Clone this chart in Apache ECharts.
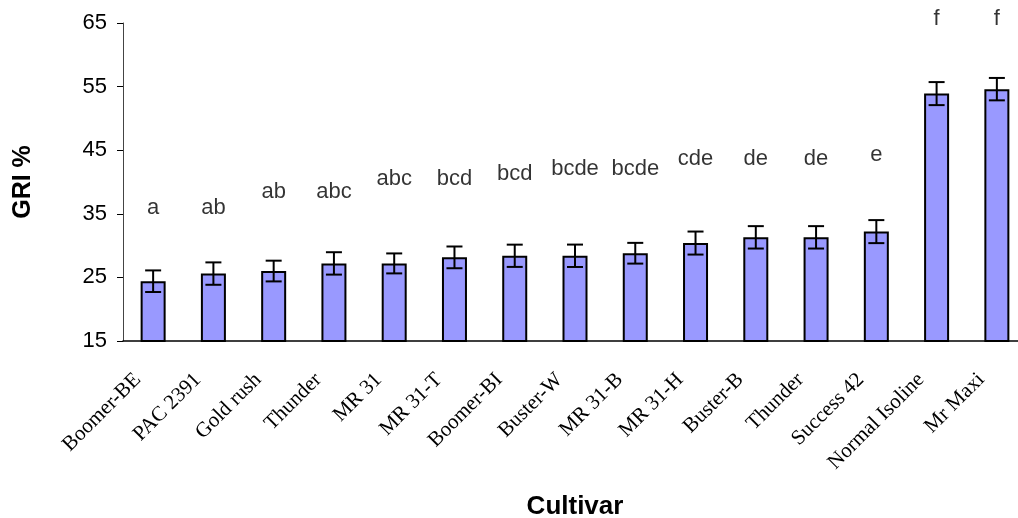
<!DOCTYPE html>
<html>
<head>
<meta charset="utf-8">
<script src="https://cdn.jsdelivr.net/npm/echarts@6/dist/echarts.min.js"></script>
<style>
html,body{margin:0;padding:0;background:#fff;}
#chart{width:1018px;height:518px;}
</style>
</head>
<body>
<div id="chart"></div>
<script>
var categories = ['Boomer-BE','PAC 2391','Gold rush','Thunder','MR 31','MR 31-T','Boomer-BI','Buster-W','MR 31-B','MR 31-H','Buster-B','Thunder','Success 42','Normal Isoline','Mr Maxi'];
var griValues = [24.4, 25.6, 26.0, 27.2, 27.2, 28.15, 28.4, 28.4, 28.8, 30.4, 31.3, 31.3, 32.2, 53.9, 54.6];
var griErrors = [1.70, 1.76, 1.63, 1.76, 1.57, 1.71, 1.75, 1.76, 1.63, 1.81, 1.76, 1.76, 1.81, 1.81, 1.76];
var letters = ['a','ab','ab','abc','abc','bcd','bcd','bcde','bcde','cde','de','de','e','f','f'];
var letterY = [35.95, 35.95, 38.5, 38.5, 40.45, 40.45, 41.2, 42.0, 42.0, 43.6, 43.6, 43.6, 44.3, 65.6, 65.6];
var yTicks = {min: 15, max: 65, interval: 10};

var errData = griValues.map(function (v, i) { return [i, v - griErrors[i], v + griErrors[i]]; });
var letterData = letterY.map(function (v, i) { return [i, v, letters[i]]; });

var chart = echarts.init(document.getElementById('chart'), null, {renderer: 'canvas'});
chart.setOption({
  animation: false,
  backgroundColor: '#ffffff',
  grid: {left: 123, top: 23, width: 904, height: 318, containLabel: false, outerBoundsMode: 'none'},
  xAxis: {
    type: 'category',
    data: categories,
    name: 'Cultivar',
    nameLocation: 'middle',
    nameGap: 153,
    nameTextStyle: {fontFamily: 'Liberation Sans, Arial', fontWeight: 'bold', fontSize: 26, color: '#000'},
    axisLine: {show: true, lineStyle: {color: '#000', width: 1.5}},
    axisTick: {show: false},
    axisLabel: {interval: 0, rotate: 45, margin: 20, padding: [0, 22, 0, 0], fontFamily: 'Liberation Serif, Times New Roman', fontSize: 21, color: '#000'},
    splitLine: {show: false}
  },
  yAxis: {
    type: 'value',
    min: yTicks.min, max: yTicks.max, interval: yTicks.interval,
    name: 'GRI %',
    nameLocation: 'middle',
    nameRotate: 90,
    nameGap: 87,
    nameTextStyle: {fontFamily: 'Liberation Sans, Arial', fontWeight: 'bold', fontSize: 25, color: '#000'},
    axisLine: {show: true, lineStyle: {color: '#444', width: 1}},
    axisTick: {show: true, length: 6, lineStyle: {color: '#000', width: 1}},
    axisLabel: {margin: 16, fontFamily: 'Liberation Sans, Arial', fontSize: 22, color: '#000'},
    splitLine: {show: false}
  },
  series: [
    {
      type: 'bar',
      data: griValues,
      barWidth: 25,
      itemStyle: {color: '#9999FF', borderColor: '#000', borderWidth: 2},
      z: 2
    },
    {
      type: 'custom',
      data: errData,
      z: 3,
      renderItem: function (params, api) {
        var x = api.value(0);
        var lo = api.coord([x, api.value(1)]);
        var hi = api.coord([x, api.value(2)]);
        var cw = 8;
        var st = {stroke: '#000', lineWidth: 2};
        return {
          type: 'group',
          children: [
            {type: 'line', shape: {x1: lo[0], y1: lo[1], x2: hi[0], y2: hi[1]}, style: st},
            {type: 'line', shape: {x1: hi[0] - cw, y1: hi[1], x2: hi[0] + cw, y2: hi[1]}, style: st},
            {type: 'line', shape: {x1: lo[0] - cw, y1: lo[1], x2: lo[0] + cw, y2: lo[1]}, style: st}
          ]
        };
      }
    },
    {
      type: 'scatter',
      data: letterData,
      symbolSize: 0,
      clip: false,
      itemStyle: {color: 'transparent'},
      label: {
        show: true,
        position: 'inside',
        formatter: function (p) { return p.data[2]; },
        fontFamily: 'Liberation Sans, Arial',
        fontSize: 22,
        color: '#000'
      },
      z: 4
    }
  ]
});
</script>
</body>
</html>
